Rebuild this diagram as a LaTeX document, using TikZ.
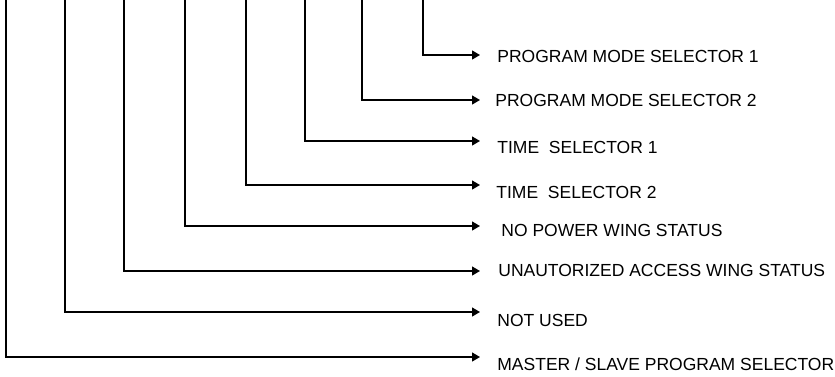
\documentclass[tikz,border=0pt]{standalone}
\usepackage{fontspec}
\setmainfont{Liberation Sans}
\usetikzlibrary{arrows.meta}
\begin{document}
\begin{tikzpicture}[x=0.5pt,y=-0.5pt]
\tikzstyle{wire}=[line width=0.65pt,-{Triangle[length=4pt,width=4.5pt]}]
\tikzstyle{sigtext}=[anchor=base west,inner sep=0pt,font=\fontsize{8.75}{10}\selectfont]
\useasboundingbox (0,0) rectangle (835,376);

\path (423,0) coordinate(t1) (480,55) coordinate(e1) (497,62.5) node[sigtext](s1){PROGRAM MODE SELECTOR 1};
\draw[wire] (t1) |- (e1);

\path (362,0) coordinate(t2) (480,100) coordinate(e2) (495,106) node[sigtext](s2){PROGRAM MODE SELECTOR 2};
\draw[wire] (t2) |- (e2);

\path (305,0) coordinate(t3) (480,141) coordinate(e3) (497,153) node[sigtext](s3){TIME\ \ SELECTOR 1};
\draw[wire] (t3) |- (e3);

\path (246,0) coordinate(t4) (480,185) coordinate(e4) (496,198) node[sigtext](s4){TIME\ \ SELECTOR 2};
\draw[wire] (t4) |- (e4);

\path (185,0) coordinate(t5) (480,226) coordinate(e5) (501,236) node[sigtext](s5){NO POWER WING STATUS};
\draw[wire] (t5) |- (e5);

\path (124,0) coordinate(t6) (480,271) coordinate(e6) (498,276.5) node[sigtext](s6){UNAUTORIZED ACCESS WING STATUS};
\draw[wire] (t6) |- (e6);

\path (65,0) coordinate(t7) (480,312) coordinate(e7) (497,326) node[sigtext](s7){NOT USED};
\draw[wire] (t7) |- (e7);

\path (6,0) coordinate(t8) (480,357) coordinate(e8) (497,370) node[sigtext](s8){MASTER / SLAVE PROGRAM SELECTOR};
\draw[wire] (t8) |- (e8);
\end{tikzpicture}
\end{document}
